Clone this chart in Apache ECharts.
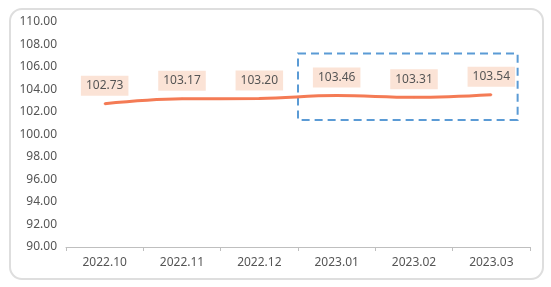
<!DOCTYPE html>
<html><head><meta charset="utf-8">
<script src="https://cdn.jsdelivr.net/npm/echarts@6/dist/echarts.min.js"></script>
<style>html,body{margin:0;padding:0;background:#fff}#c{width:551px;height:287px}</style>
</head><body><div id="c"></div>
<script>
const categories = ['2022.10','2022.11','2022.12','2023.01','2023.02','2023.03'];
const values = [102.73, 103.17, 103.20, 103.46, 103.31, 103.54];
const yMin = 90, yMax = 110, yStep = 2;
const highlightFrom = '2023.01', highlightTo = '2023.03';
const highlightLow = 101.3, highlightHigh = 107.2;

const chart = echarts.init(document.getElementById('c'));
const font = '"Microsoft YaHei", "Noto Sans", sans-serif';
chart.setOption({
  animation: false,
  grid: {left: 66, right: 21, top: 22, bottom: 40},
  xAxis: {
    type: 'category', data: categories, boundaryGap: true,
    axisLine: {lineStyle: {color: '#bfbfbf'}},
    axisTick: {show: true, length: 4, lineStyle: {color: '#bfbfbf'}},
    axisLabel: {color: '#555', fontSize: 12, fontFamily: font, margin: 10}
  },
  yAxis: {
    type: 'value', min: yMin, max: yMax, interval: yStep,
    axisLine: {show: false}, axisTick: {show: false},
    splitLine: {show: false},
    axisLabel: {color: '#555', fontSize: 12, fontFamily: font, margin: 9,
      formatter: v => v.toFixed(2)}
  },
  series: [{
    type: 'line', data: values, smooth: 0.4, showSymbol: true,
    symbol: 'circle', symbolSize: 2,
    lineStyle: {color: '#f47b55', width: 3},
    itemStyle: {color: '#f47b55'},
    label: {show: true, position: 'top', distance: 7,
      formatter: p => p.value.toFixed(2),
      color: '#555', fontSize: 12, fontFamily: font,
      backgroundColor: '#fbe3d6', padding: [4, 5, 4, 5]}
  }]
});

function drawOverlay() {
  const band = chart.convertToPixel({xAxisIndex: 0}, categories[1]) - chart.convertToPixel({xAxisIndex: 0}, categories[0]);
  const x1 = chart.convertToPixel({xAxisIndex: 0}, highlightFrom) - band / 2;
  const x2 = chart.convertToPixel({xAxisIndex: 0}, highlightTo) + band * 0.34;
  const y1 = chart.convertToPixel({yAxisIndex: 0}, highlightHigh);
  const y2 = chart.convertToPixel({yAxisIndex: 0}, highlightLow);
  chart.setOption({graphic: [
    {type: 'rect', shape: {x: 10, y: 9, width: 533, height: 270, r: 12},
     style: {fill: 'none', stroke: '#dedede', lineWidth: 2}, silent: true, z: -1},
    {type: 'rect', shape: {x: x1, y: y1, width: x2 - x1, height: y2 - y1},
     style: {fill: 'none', stroke: '#5b9bd5', lineWidth: 2, lineDash: [8, 5]}, silent: true}
  ]});
}
drawOverlay();
</script></body></html>
